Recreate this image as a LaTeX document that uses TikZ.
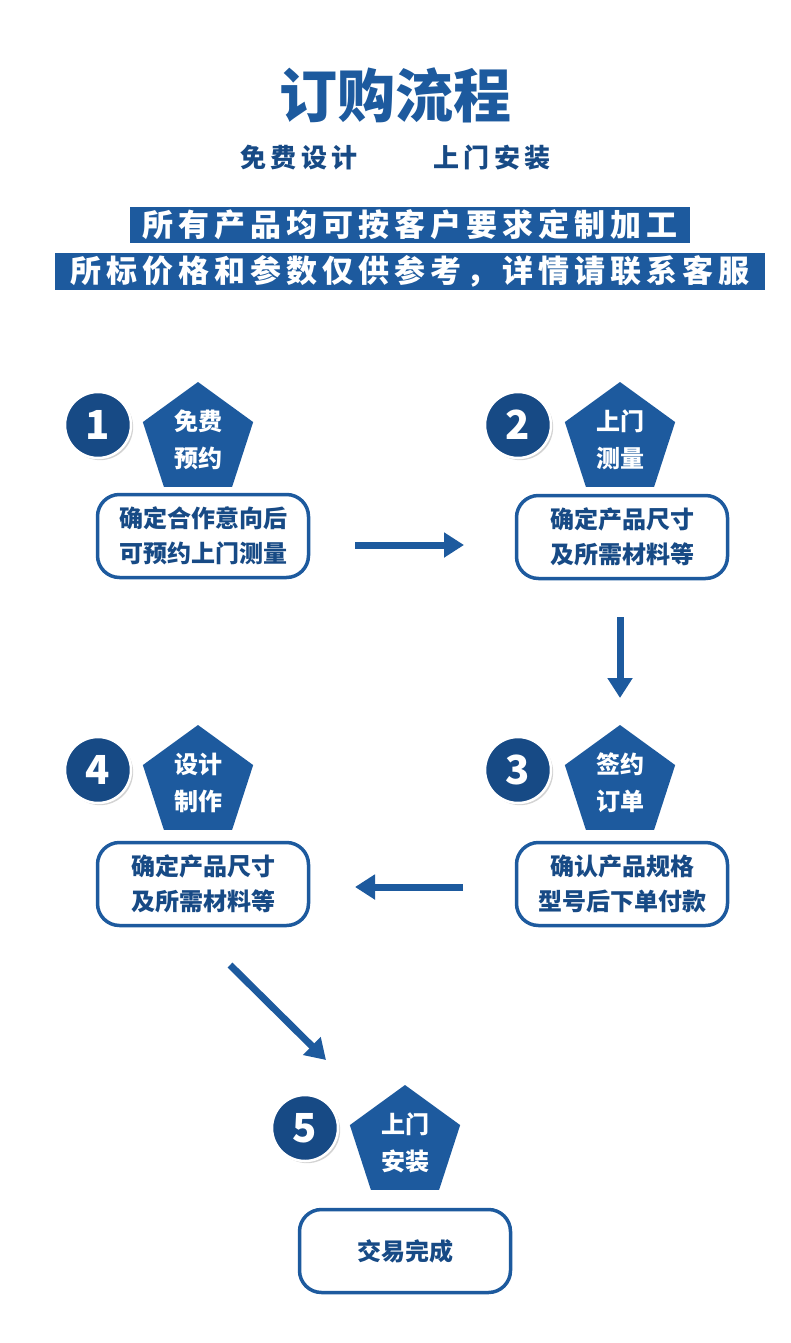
\documentclass[tikz,border=0pt]{standalone}
\usepackage{fontspec}
\newfontfamily\cjk{Noto Sans CJK SC}
\newfontfamily\cjkwide{Noto Sans CJK SC}[LetterSpace=16]
\usetikzlibrary{shapes.geometric,arrows.meta,shadows}
\definecolor{mainblue}{HTML}{1D5A9E}
\definecolor{darkblue}{HTML}{174A85}
\tikzset{
  num/.style={circle, draw=white, line width=2.5pt, fill=darkblue, minimum size=66pt, inner sep=0pt,
    text=white, font=\cjk\bfseries\fontsize{40}{40}\selectfont, drop shadow={opacity=0.35}},
  tag/.style={regular polygon, regular polygon sides=5, fill=mainblue, minimum size=116pt, inner sep=0pt,
    text=white, align=center, font=\cjk\bfseries\fontsize{24}{37}\selectfont},
  note/.style={rectangle, rounded corners=22pt, draw=mainblue, line width=3.5pt, fill=white,
    minimum width=211pt, minimum height=83pt, align=center, text=darkblue,
    font=\cjk\bfseries\fontsize{24}{35}\selectfont},
  banner/.style={fill=mainblue, text=white, inner sep=2pt, font=\cjkwide\bfseries\fontsize{31}{31}\selectfont},
  subline/.style={text=darkblue, font=\cjkwide\bfseries\fontsize{26}{26}\selectfont},
  flow/.style={-{Triangle[length=20pt,width=24pt]}, line width=7pt, mainblue}
}
\begin{document}
\begin{tikzpicture}[x=1pt, y=-1pt]
\useasboundingbox (0,0) rectangle (790,1343);

% Heading
\node[text=mainblue, font=\cjk\bfseries\fontsize{58}{58}\selectfont] (title) at (395,95) {订购流程};
\node[subline] (sub1) at (299,158) {免费设计};
\node[subline] (sub2) at (492,158) {上门安装};
\node[banner, minimum width=560pt, minimum height=36pt] (ban1) at (410,225) {所有产品均可按客户要求定制加工};
\node[banner, minimum width=710pt, minimum height=37pt] (ban2) at (410,271) {所标价格和参数仅供参考，详情请联系客服};

% Step 1
\node[tag] (t1) at (198,440) {免费\\预约};
\node[num] (n1) at (98,425) {1};
\node[note] (b1) at (203,536) {确定合作意向后\\可预约上门测量};

% Step 2
\node[tag] (t2) at (620,440) {上门\\测量};
\node[num] (n2) at (518,425) {2};
\node[note] (b2) at (622,537) {确定产品尺寸\\及所需材料等};

% Step 3
\node[tag] (t3) at (620,783) {签约\\订单};
\node[num] (n3) at (518,770) {3};
\node[note] (b3) at (622,884) {确认产品规格\\型号后下单付款};

% Step 4
\node[tag] (t4) at (198,783) {设计\\制作};
\node[num] (n4) at (98,770) {4};
\node[note] (b4) at (203,884) {确定产品尺寸\\及所需材料等};

% Step 5
\node[tag] (t5) at (405,1143) {上门\\安装};
\node[num] (n5) at (305,1128) {5};
\node[note] (b5) at (405,1251) {交易完成};

% Arrows
\coordinate (a1) at (355,545); \coordinate (a2) at (464,545);
\coordinate (a3) at (620,617); \coordinate (a4) at (620,698);
\coordinate (a5) at (463,887); \coordinate (a6) at (355,887);
\coordinate (a7) at (230,965); \coordinate (a8) at (326,1060);
\draw[flow] (a1) -- (a2);
\draw[flow] (a3) -- (a4);
\draw[flow] (a5) -- (a6);
\draw[flow] (a7) -- (a8);
\end{tikzpicture}
\end{document}
